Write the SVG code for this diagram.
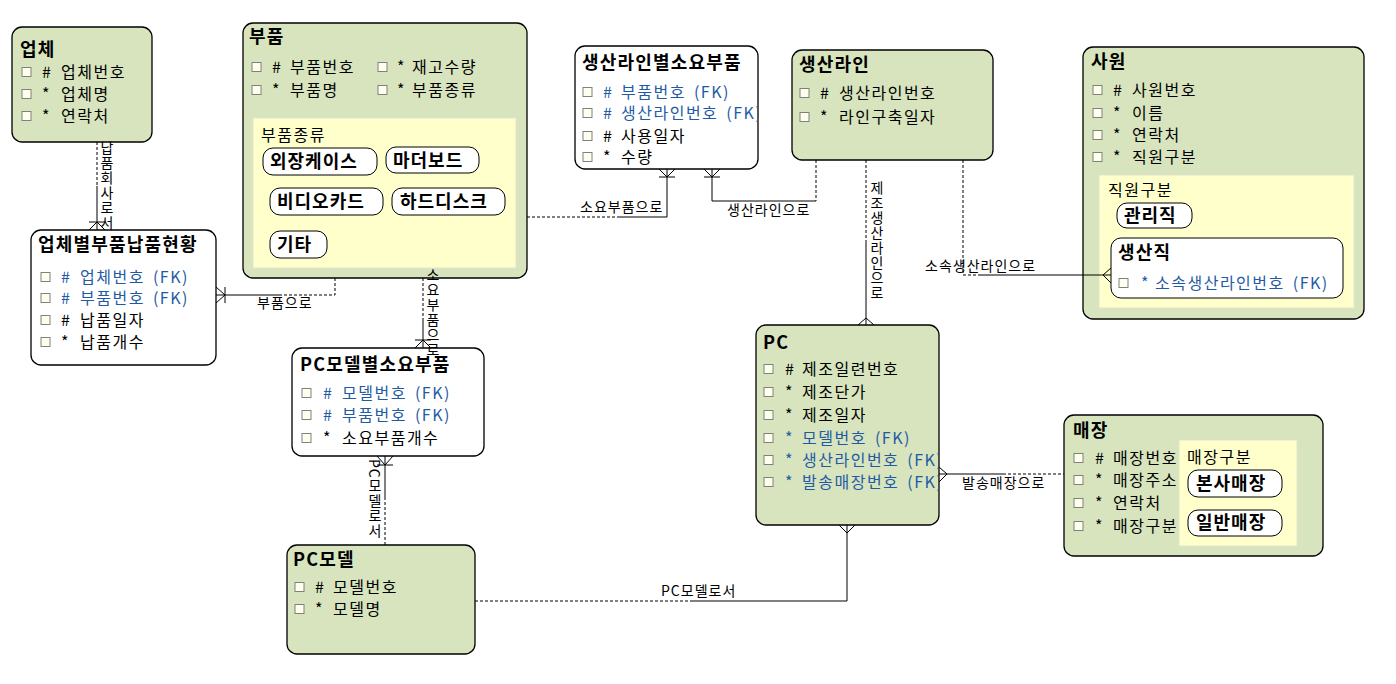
<svg xmlns="http://www.w3.org/2000/svg" width="1396" height="684" viewBox="0 0 1396 684">
<style>
.g{fill:#D7E4BD;stroke:#000;stroke-width:1.3}
.w{fill:#fff;stroke:#000;stroke-width:1.3}
.y{fill:#FFFFCC;stroke:#E4E4D0;stroke-width:1}
.p{fill:#fff;stroke:#000;stroke-width:1}
.cb{fill:#FFFFEE;stroke:#808080;stroke-width:1}
text{font-family:"Noto Sans CJK KR","Noto Sans",sans-serif;fill:#000}
.t{font-size:16px;letter-spacing:1.5px}
.h{font-size:18px;font-weight:bold;letter-spacing:1.2px}
.pt{font-size:18px;font-weight:bold;letter-spacing:1px}
.fk{fill:#1F5BA5}
.l{font-size:14px;letter-spacing:1px}
.v{font-size:14px;letter-spacing:1px;writing-mode:vertical-rl}
.ln{stroke:#000;stroke-width:1;fill:none}
.d{stroke-dasharray:3 2}
</style>
<defs>
<clipPath id="clipPC"><rect x="756" y="325" width="182" height="200"/></clipPath>
<clipPath id="clipLP"><rect x="575" y="46" width="182" height="123"/></clipPath>
</defs>

<g id="vendor">
<rect class="g" x="12" y="27" width="140" height="115" rx="10"/>
<text class="h" x="20" y="56">업체</text>
<rect class="cb" x="22" y="67.5" width="9" height="9"/>
<rect class="cb" x="22" y="89.5" width="9" height="9"/>
<rect class="cb" x="22" y="111.5" width="9" height="9"/>
<text class="t" y="78"><tspan x="42">#</tspan><tspan x="61">업체번호</tspan></text>
<text class="t" y="100"><tspan x="42">*</tspan><tspan x="61">업체명</tspan></text>
<text class="t" y="122"><tspan x="42">*</tspan><tspan x="61">연락처</tspan></text>
</g>

<g id="vendor-supply">
<rect class="w" x="31" y="230" width="185" height="135" rx="10"/>
<text class="h" x="38" y="251">업체별부품납품현황</text>
<rect class="cb" x="41" y="272.5" width="9" height="9"/>
<rect class="cb" x="41" y="293.5" width="9" height="9"/>
<rect class="cb" x="41" y="315.5" width="9" height="9"/>
<rect class="cb" x="41" y="337.5" width="9" height="9"/>
<text class="t fk" y="283"><tspan x="61">#</tspan><tspan x="80">업체번호</tspan><tspan dx="8">(FK)</tspan></text>
<text class="t fk" y="304"><tspan x="61">#</tspan><tspan x="80">부품번호</tspan><tspan dx="8">(FK)</tspan></text>
<text class="t" y="326"><tspan x="61">#</tspan><tspan x="80">납품일자</tspan></text>
<text class="t" y="348"><tspan x="61">*</tspan><tspan x="80">납품개수</tspan></text>
</g>

<g id="part">
<rect class="g" x="243" y="23" width="284" height="255" rx="10"/>
<text class="h" x="249" y="43">부품</text>
<rect class="cb" x="252" y="62.5" width="9" height="9"/>
<rect class="cb" x="252" y="85.5" width="9" height="9"/>
<rect class="cb" x="378" y="62.5" width="9" height="9"/>
<rect class="cb" x="378" y="85.5" width="9" height="9"/>
<text class="t" y="73"><tspan x="272">#</tspan><tspan x="290">부품번호</tspan><tspan x="397">*</tspan><tspan x="412">재고수량</tspan></text>
<text class="t" y="96"><tspan x="272">*</tspan><tspan x="290">부품명</tspan><tspan x="397">*</tspan><tspan x="412">부품종류</tspan></text>
<rect class="y" x="253" y="118" width="263" height="150"/>
<text class="t" x="261" y="141">부품종류</text>
<rect class="p" x="263" y="148" width="114" height="27" rx="10"/>
<text class="pt" x="270" y="168">외장케이스</text>
<rect class="p" x="386" y="147" width="93" height="26" rx="10"/>
<text class="pt" x="393" y="166.5">마더보드</text>
<rect class="p" x="270" y="188" width="113" height="27" rx="10"/>
<text class="pt" x="277" y="208">비디오카드</text>
<rect class="p" x="392" y="188" width="113" height="27" rx="10"/>
<text class="pt" x="400" y="208">하드디스크</text>
<rect class="p" x="270" y="231" width="57" height="27" rx="10"/>
<text class="pt" x="277" y="251">기타</text>
</g>

<g id="line-part">
<rect class="w" x="575" y="46" width="183" height="123" rx="10"/>
<text class="h" x="582" y="69">생산라인별소요부품</text>
<rect class="cb" x="583" y="87.5" width="9" height="9"/>
<rect class="cb" x="583" y="108.5" width="9" height="9"/>
<rect class="cb" x="583" y="131.5" width="9" height="9"/>
<rect class="cb" x="583" y="152.5" width="9" height="9"/>
<g clip-path="url(#clipLP)">
<text class="t fk" y="98"><tspan x="603">#</tspan><tspan x="621">부품번호</tspan><tspan dx="8">(FK)</tspan></text>
<text class="t fk" y="119"><tspan x="603">#</tspan><tspan x="621">생산라인번호</tspan><tspan dx="8">(FK)</tspan></text>
</g>
<text class="t" y="142"><tspan x="603">#</tspan><tspan x="621">사용일자</tspan></text>
<text class="t" y="163"><tspan x="603">*</tspan><tspan x="621">수량</tspan></text>
</g>

<g id="line">
<rect class="g" x="792" y="50" width="201" height="110" rx="10"/>
<text class="h" x="799" y="71">생산라인</text>
<rect class="cb" x="800" y="88.5" width="9" height="9"/>
<rect class="cb" x="800" y="112.5" width="9" height="9"/>
<text class="t" y="99"><tspan x="820">#</tspan><tspan x="839">생산라인번호</tspan></text>
<text class="t" y="123"><tspan x="820">*</tspan><tspan x="839">라인구축일자</tspan></text>
</g>

<g id="employee">
<rect class="g" x="1083" y="47" width="281" height="272" rx="10"/>
<text class="h" x="1091" y="68">사원</text>
<rect class="cb" x="1093" y="85.5" width="9" height="9"/>
<rect class="cb" x="1093" y="108.5" width="9" height="9"/>
<rect class="cb" x="1093" y="130.5" width="9" height="9"/>
<rect class="cb" x="1093" y="152.5" width="9" height="9"/>
<text class="t" y="96"><tspan x="1113">#</tspan><tspan x="1132">사원번호</tspan></text>
<text class="t" y="119"><tspan x="1113">*</tspan><tspan x="1132">이름</tspan></text>
<text class="t" y="141"><tspan x="1113">*</tspan><tspan x="1132">연락처</tspan></text>
<text class="t" y="163"><tspan x="1113">*</tspan><tspan x="1132">직원구분</tspan></text>
<rect class="y" x="1099" y="175" width="255" height="133"/>
<text class="t" x="1108" y="196">직원구분</text>
<rect class="p" x="1117" y="203" width="75" height="25" rx="10"/>
<text class="pt" x="1124" y="222">관리직</text>
<g id="production-staff">
<rect class="p" x="1111" y="238" width="232" height="60" rx="10"/>
<text class="h" x="1118" y="259">생산직</text>
<rect class="cb" x="1119" y="278.5" width="9" height="9"/>
<text class="t fk" y="289"><tspan x="1141">*</tspan><tspan x="1155">소속생산라인번호</tspan><tspan dx="8">(FK)</tspan></text>
</g>
</g>

<g id="pc">
<rect class="g" x="756" y="325" width="183" height="200" rx="10"/>
<text class="h" x="763" y="349">PC</text>
<rect class="cb" x="764" y="364.5" width="9" height="9"/>
<rect class="cb" x="764" y="387.5" width="9" height="9"/>
<rect class="cb" x="764" y="410.5" width="9" height="9"/>
<rect class="cb" x="764" y="433.5" width="9" height="9"/>
<rect class="cb" x="764" y="455.5" width="9" height="9"/>
<rect class="cb" x="764" y="477.5" width="9" height="9"/>
<text class="t" y="375"><tspan x="785">#</tspan><tspan x="802">제조일련번호</tspan></text>
<text class="t" y="398"><tspan x="785">*</tspan><tspan x="802">제조단가</tspan></text>
<text class="t" y="421"><tspan x="785">*</tspan><tspan x="802">제조일자</tspan></text>
<g clip-path="url(#clipPC)">
<text class="t fk" y="444"><tspan x="785">*</tspan><tspan x="802">모델번호</tspan><tspan dx="8">(FK)</tspan></text>
<text class="t fk" y="466"><tspan x="785">*</tspan><tspan x="802">생산라인번호</tspan><tspan dx="8">(FK)</tspan></text>
<text class="t fk" y="488"><tspan x="785">*</tspan><tspan x="802">발송매장번호</tspan><tspan dx="8">(FK)</tspan></text>
</g>
</g>

<g id="store">
<rect class="g" x="1064" y="415" width="259" height="141" rx="10"/>
<text class="h" x="1073" y="437">매장</text>
<rect class="cb" x="1074" y="453.5" width="9" height="9"/>
<rect class="cb" x="1074" y="475.5" width="9" height="9"/>
<rect class="cb" x="1074" y="498.5" width="9" height="9"/>
<rect class="cb" x="1074" y="521.5" width="9" height="9"/>
<text class="t" y="464"><tspan x="1095">#</tspan><tspan x="1113">매장번호</tspan></text>
<text class="t" y="486"><tspan x="1095">*</tspan><tspan x="1113">매장주소</tspan></text>
<text class="t" y="509"><tspan x="1095">*</tspan><tspan x="1113">연락처</tspan></text>
<text class="t" y="532"><tspan x="1095">*</tspan><tspan x="1113">매장구분</tspan></text>
<rect class="y" x="1179" y="440" width="118" height="106"/>
<text class="t" x="1187" y="463">매장구분</text>
<rect class="p" x="1188" y="470" width="94" height="27" rx="10"/>
<text class="pt" x="1196" y="490">본사매장</text>
<rect class="p" x="1188" y="510" width="94" height="26" rx="10"/>
<text class="pt" x="1196" y="529">일반매장</text>
</g>

<g id="model-part">
<rect class="w" x="292" y="348" width="192" height="108" rx="10"/>
<text class="h" x="300" y="371">PC모델별소요부품</text>
<rect class="cb" x="302" y="388.5" width="9" height="9"/>
<rect class="cb" x="302" y="410.5" width="9" height="9"/>
<rect class="cb" x="302" y="433.5" width="9" height="9"/>
<text class="t fk" y="399"><tspan x="323">#</tspan><tspan x="342">모델번호</tspan><tspan dx="8">(FK)</tspan></text>
<text class="t fk" y="421"><tspan x="323">#</tspan><tspan x="342">부품번호</tspan><tspan dx="8">(FK)</tspan></text>
<text class="t" y="444"><tspan x="323">*</tspan><tspan x="342">소요부품개수</tspan></text>
</g>

<g id="model">
<rect class="g" x="287" y="545" width="188" height="109" rx="10"/>
<text class="h" x="293" y="566">PC모델</text>
<rect class="cb" x="295" y="582.5" width="9" height="9"/>
<rect class="cb" x="295" y="604.5" width="9" height="9"/>
<text class="t" y="593"><tspan x="315">#</tspan><tspan x="333">모델번호</tspan></text>
<text class="t" y="615"><tspan x="315">*</tspan><tspan x="333">모델명</tspan></text>
</g>

<g id="connectors">
<path class="ln d" d="M97,142 V186"/>
<path class="ln" d="M97,186 V230 M89,222 H105 M89,230 L97,222 L105,230"/>
<text class="v" x="107" y="141">납품회사로서</text>

<path class="ln d" d="M335,278 V295 H280"/>
<path class="ln" d="M280,295 H216 M225,287 V303 M216,287 L225,295 L216,303"/>
<text class="l" x="257" y="308">부품으로</text>

<path class="ln d" d="M423,278 V318"/>
<path class="ln" d="M423,318 V348 M415,340 H431 M415,348 L423,340 L431,348"/>
<text class="v" x="433" y="268">소요부품으로</text>

<path class="ln" d="M385,456 V497 M377,465 H393 M377,456 L385,465 L393,456"/>
<path class="ln d" d="M385,497 V545"/>
<text class="v" x="375" y="459">PC모델로서</text>

<path class="ln d" d="M475,601 H690"/>
<path class="ln" d="M690,601 H847 V525 M839,525 L847,533 L855,525"/>
<text class="l" x="661" y="596">PC모델로서</text>

<path class="ln d" d="M527,217 H617"/>
<path class="ln" d="M617,217 H667 V169 M659,177 H675 M659,169 L667,177 L675,169"/>
<text class="l" x="580" y="212">소요부품으로</text>

<path class="ln d" d="M816,160 V201"/>
<path class="ln" d="M816,201 H712 V169 M704,177 H720 M704,169 L712,177 L720,169"/>
<text class="l" x="727" y="215">생산라인으로</text>

<path class="ln d" d="M866,160 V242"/>
<path class="ln" d="M866,242 V325 M858,325 L866,318 L874,325"/>
<text class="v" x="877" y="181">제조생산라인으로</text>

<path class="ln d" d="M963,160 V275 H980"/>
<path class="ln" d="M980,275 H1111 M1111,268 L1103,275 L1111,283"/>
<text class="l" x="925" y="271">소속생산라인으로</text>

<path class="ln" d="M939,474 H1003 M939,467 L947,474 L939,482"/>
<path class="ln d" d="M1003,474 H1064"/>
<text class="l" x="962" y="488">발송매장으로</text>
</g>
</svg>
